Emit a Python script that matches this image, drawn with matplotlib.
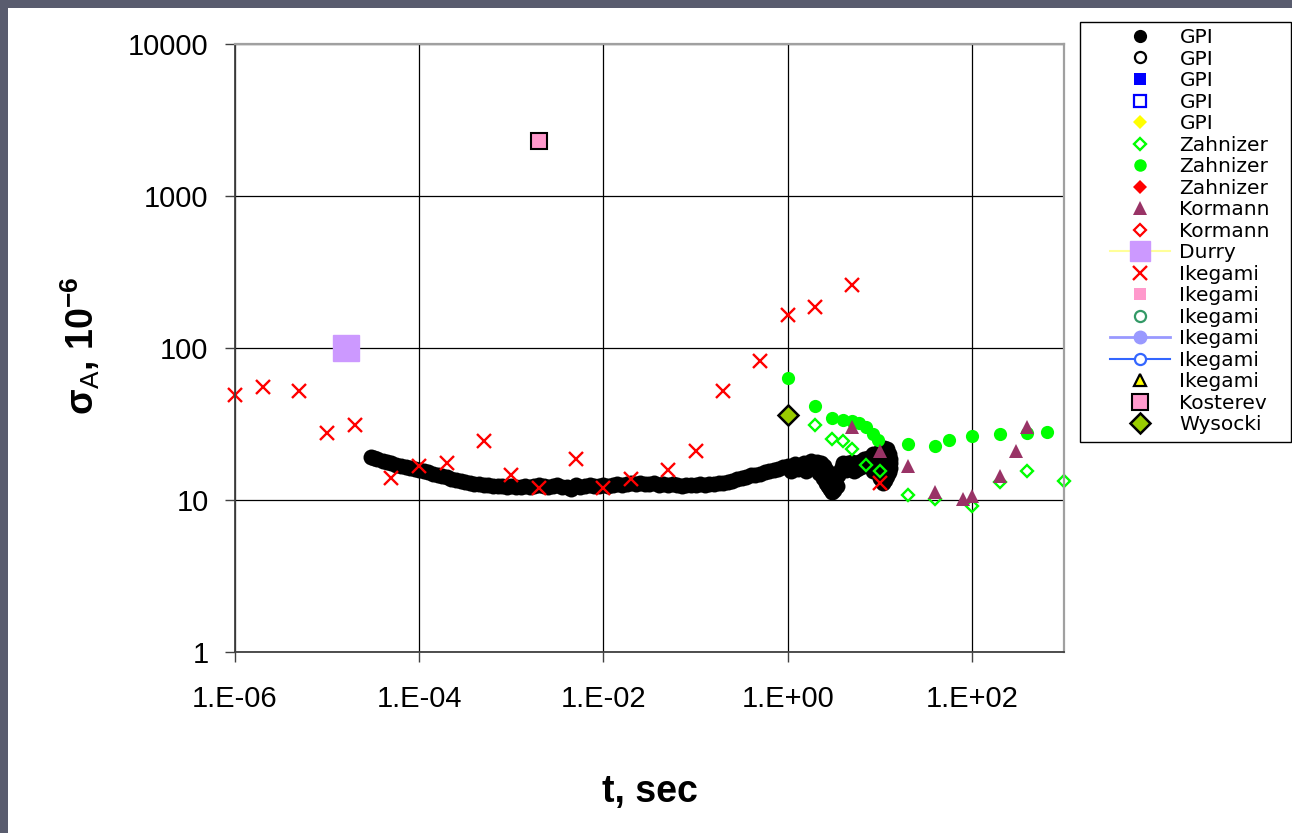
import matplotlib
matplotlib.use("Agg")
import matplotlib.pyplot as plt
from matplotlib.patches import Rectangle

plt.rcParams['font.family'] = ['Liberation Sans', 'DejaVu Sans']
plt.rcParams['mathtext.fontset'] = 'custom'
plt.rcParams['mathtext.rm'] = 'Liberation Sans'
plt.rcParams['mathtext.bf'] = 'Liberation Sans:bold'

# GPI (black filled circles)
gpi_t = [3.0e-5, 3.2e-5, 3.5e-5, 4.0e-5, 4.5e-5, 5.0e-5, 5.6e-5, 6.3e-5, 7.1e-5, 7.9e-5, 8.9e-5,
         1.0e-4, 1.12e-4, 1.26e-4, 1.41e-4, 1.58e-4, 1.78e-4, 2.0e-4, 2.24e-4, 2.51e-4, 2.82e-4,
         3.16e-4, 3.55e-4, 3.98e-4, 4.47e-4, 5.01e-4, 5.62e-4, 6.31e-4, 7.08e-4, 7.94e-4, 8.91e-4,
         1.0e-3, 1.12e-3, 1.26e-3, 1.41e-3, 1.58e-3, 1.78e-3, 2.0e-3, 2.24e-3, 2.51e-3, 2.82e-3,
         3.16e-3, 3.55e-3, 3.98e-3, 4.47e-3, 5.01e-3, 5.62e-3, 6.31e-3, 7.08e-3, 7.94e-3, 8.91e-3,
         1.0e-2, 1.12e-2, 1.26e-2, 1.41e-2, 1.58e-2, 1.78e-2, 2.0e-2, 2.24e-2, 2.51e-2, 2.82e-2,
         3.16e-2, 3.55e-2, 3.98e-2, 4.47e-2, 5.01e-2, 5.62e-2, 6.31e-2, 7.08e-2, 7.94e-2, 8.91e-2,
         0.1, 0.112, 0.126, 0.141, 0.158, 0.178, 0.2, 0.224, 0.251, 0.282,
         0.316, 0.355, 0.398, 0.447, 0.501, 0.562, 0.631, 0.708, 0.794, 0.891,
         1.0, 1.1, 1.2, 1.3, 1.5, 1.6, 1.8, 2.0, 2.1, 2.2, 2.3, 2.4, 2.5, 2.6, 2.7, 2.75, 2.8, 2.9,
         3.0, 3.1, 3.2, 3.3, 3.4, 3.5, 3.7, 3.9,
         4.0, 4.3, 4.5, 4.7, 5.0, 5.2, 5.5, 5.7, 6.0, 6.3, 6.7, 7.0, 7.5, 8.0, 8.5, 9.2, 10.0, 10.5,
         11.0, 11.5, 12.0, 12.5, 12.8, 13.0, 12.8, 12.5, 12.0, 11.5, 10.8, 10.0, 9.5, 9.0, 8.5, 8.0]
gpi_sigma = [19.3, 18.9, 18.6, 18.1, 17.7, 17.4, 17.1, 16.8, 16.5, 16.3, 16.0,
             15.8, 15.5, 15.2, 14.9, 14.7, 14.4, 14.1, 13.8, 13.6, 13.3,
             13.1, 12.9, 12.8, 12.7, 12.6, 12.5, 12.4, 12.3, 12.3, 12.2,
             12.3, 12.1, 12.2, 12.4, 12.2, 12.3, 12.5, 12.3, 12.2, 12.4,
             12.5, 12.2, 12.1, 11.8, 12.5, 12.1, 12.3, 12.5, 12.3, 12.4,
             12.5, 12.3, 12.6, 12.7, 12.5, 12.8, 12.9, 12.7, 13.0, 12.8,
             12.7, 12.9, 12.6, 12.7, 12.5, 12.7, 12.5, 12.4, 12.6, 12.5,
             12.5, 12.7, 12.6, 12.8, 12.7, 12.9, 13.0, 13.2, 13.4, 13.7,
             13.9, 14.2, 14.5, 14.7, 14.9, 15.2, 15.5, 15.8, 16.1, 16.4,
             16.7, 15.5, 17.2, 16.0, 17.6, 15.6, 18.0, 16.2, 17.8, 15.0, 17.6, 14.0, 16.8, 13.0, 15.6, 12.3,
             14.2, 11.8,
             11.3, 12.6, 11.6, 13.4, 12.4, 14.6, 15.6, 16.6,
             17.4, 15.8, 17.6, 16.4, 17.8, 15.6, 17.2, 16.0, 17.8, 16.4, 18.6, 17.0, 19.0, 17.2, 20.0, 18.4, 21.0, 19.0,
             22.0, 19.8, 21.5, 20.2, 18.6, 17.4, 16.2, 15.2, 14.4, 13.6, 13.0, 14.0, 15.2, 16.4, 15.6, 16.8]

# Zahnizer open diamonds
zahn_open_t = [2, 3, 4, 5, 7, 10, 20, 40, 100, 200, 400, 1000]
zahn_open_sigma = [31, 25.2, 24.4, 21.6, 17, 15.5, 10.8, 10.2, 9.1, 13.1, 15.5, 13.3]

# Zahnizer filled circles
zahn_fill_t = [1, 2, 3, 4, 5, 6, 7, 8.5, 9.6, 20, 40, 56, 100, 200, 400, 650]
zahn_fill_sigma = [63.5, 41.5, 34.6, 33.6, 33, 32, 30, 27, 25, 23.4, 22.7, 24.8, 26.4, 27.2, 27.7, 28]

# Kormann triangles
korm_t = [5, 10, 20, 40, 80, 100, 200, 300, 400]
korm_sigma = [30, 21, 16.7, 11.3, 10.1, 10.6, 14.4, 21, 30]

# Durry
durry_t = [1.6e-5]
durry_sigma = [100]

# Ikegami crosses
ike_t = [1e-6, 2e-6, 5e-6, 1e-5, 2e-5, 5e-5, 1e-4, 2e-4, 5e-4, 1e-3, 2e-3, 5e-3,
         1e-2, 2e-2, 5e-2, 0.1, 0.2, 0.5, 1, 2, 5, 10]
ike_sigma = [49, 55, 52, 27.6, 31, 14, 16.7, 17.5, 24.4, 14.6, 12, 18.6,
             12, 13.8, 15.8, 21, 52, 82, 165, 186, 260, 13]

# Kosterev, Wysocki
kost_t = [2e-3]
kost_sigma = [2300]
wys_t = [1]
wys_sigma = [36]

xtick_vals = [1e-6, 1e-4, 1e-2, 1, 1e2]
xtick_labels = ['1.E-06', '1.E-04', '1.E-02', '1.E+00', '1.E+02']
ytick_vals = [1, 10, 100, 1000, 10000]
ytick_labels = ['1', '10', '100', '1000', '10000']

W, H = 1292, 833
fig = plt.figure(figsize=(W / 100, H / 100), dpi=100, facecolor='#595c6e')
fig.add_artist(Rectangle((8 / W, 0), 1, 1 - 8 / H, transform=fig.transFigure,
                         facecolor='white', edgecolor='none', zorder=-10))

ax = fig.add_axes([235 / W, 1 - 652 / H, (1064 - 235) / W, (652 - 44) / H])
ax.set_xscale('log')
ax.set_yscale('log')
ax.set_xlim(1e-6, 1e3)
ax.set_ylim(1, 1e4)

# legend-only series have no points
ax.plot(gpi_t, gpi_sigma, 'o', color='black', ms=11.5, mew=0, label='GPI')
ax.plot([], [], 'o', mfc='white', mec='black', ms=8, mew=1.6, label='GPI')
ax.plot([], [], 's', color='#0000ff', ms=9, mew=0, label='GPI')
ax.plot([], [], 's', mfc='white', mec='#0000ff', ms=8, mew=1.6, label='GPI')
ax.plot([], [], 'D', color='#ffff00', ms=7.5, mew=0, label='GPI')
ax.plot(zahn_open_t, zahn_open_sigma, 'D', mfc='none', mec='#00ff00', ms=6.2, mew=1.7, label='Zahnizer')
ax.plot(zahn_fill_t, zahn_fill_sigma, 'o', color='#00ff00', ms=9.5, mew=0, label='Zahnizer')
ax.plot([], [], 'D', color='#ff0000', ms=7.5, mew=0, label='Zahnizer')
ax.plot(korm_t, korm_sigma, '^', color='#993366', ms=10.5, mew=0, label='Kormann')
ax.plot([], [], 'D', mfc='white', mec='#ff0000', ms=6.5, mew=1.6, label='Kormann')
ax.plot(durry_t, durry_sigma, 's-', color='#ffff99', mfc='#cc99ff', mec='#cc99ff', ms=19, label='Durry')
ax.plot(ike_t, ike_sigma, 'x', color='#ff0000', ms=10, mew=1.7, label='Ikegami')
ax.plot([], [], 's', color='#ff99cc', ms=9, mew=0, label='Ikegami')
ax.plot([], [], 'o', mfc='white', mec='#339966', ms=8, mew=1.6, label='Ikegami')
ax.plot([], [], 'o-', color='#9999ff', ms=9, lw=2, label='Ikegami')
ax.plot([], [], 'o-', color='#3366ff', mfc='white', ms=8, mew=1.6, lw=1.5, label='Ikegami')
ax.plot([], [], '^', mfc='#ffff00', mec='black', ms=9, mew=1.6, label='Ikegami')
ax.plot(kost_t, kost_sigma, 's', mfc='#ff99cc', mec='black', ms=12, mew=1.5, label='Kosterev')
ax.plot(wys_t, wys_sigma, 'D', mfc='#99cc00', mec='black', ms=10.5, mew=1.8, label='Wysocki')
for ln in ax.lines:
    ln.set_clip_on(False)

ax.set_xticks(xtick_vals)
ax.set_xticklabels(xtick_labels)
ax.set_yticks(ytick_vals)
ax.set_yticklabels(ytick_labels)
ax.minorticks_off()
ax.tick_params(axis='both', direction='out', length=7, width=1, color='#404040', labelsize=21)
ax.tick_params(axis='x', pad=17)
ax.tick_params(axis='y', pad=12)
ax.grid(True, color='black', lw=0.9)
ax.set_axisbelow(True)
for s in ['left', 'bottom']:
    ax.spines[s].set_color('#404040')
    ax.spines[s].set_linewidth(1.3)
for s in ['top', 'right']:
    ax.spines[s].set_color('#a0a0a0')
    ax.spines[s].set_linewidth(1.6)

fig.text(650 / W, 1 - 792 / H, 't, sec', ha='center', va='center', fontsize=27, fontweight='bold')
fig.text(80 / W, 1 - 346 / H, 'σ$_\\mathrm{A}$, 10$^{\\mathbf{-6}}$', ha='center', va='center',
         rotation=90, fontsize=27, fontweight='bold')

leg = ax.legend(loc='upper left', bbox_to_anchor=(1110 / W, 1 - 28 / H), bbox_transform=fig.transFigure,
                frameon=False, prop={'family': 'DejaVu Sans', 'size': 14.5}, labelspacing=0.125,
                handlelength=3.0, handletextpad=0.45, borderpad=0, borderaxespad=0, numpoints=1)
leg.legend_handles[0].set_markersize(9.5)
leg.legend_handles[6].set_markersize(9)
leg.legend_handles[10].set_markersize(14)
fig.add_artist(Rectangle((1080 / W, 1 - 442 / H), (1291 - 1080) / W, (442 - 22) / H,
                         transform=fig.transFigure, facecolor='none', edgecolor='black', lw=1))

fig.savefig('out.png', dpi=100, facecolor=fig.get_facecolor())
